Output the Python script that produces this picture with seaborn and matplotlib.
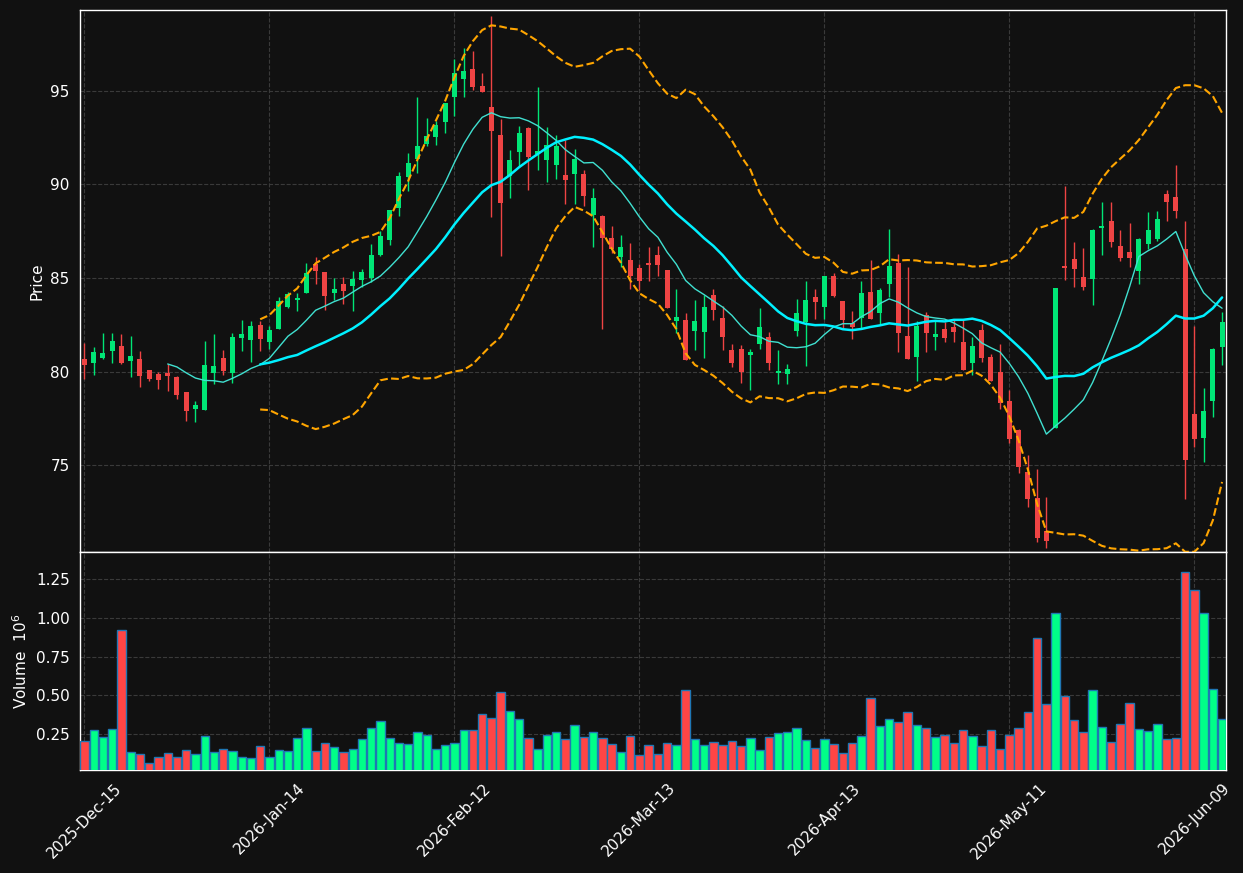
import numpy as np
import pandas as pd
import matplotlib
matplotlib.use("Agg")
import matplotlib.pyplot as plt
import seaborn as sns

# ---------------- data ----------------
holidays = ["2025-12-25", "2026-01-01", "2026-01-19", "2026-02-16", "2026-04-03", "2026-05-25"]
dates = pd.bdate_range("2025-12-15", "2026-06-12", freq="C", holidays=holidays)

opens = [80.68, 80.48, 80.75, 81.12, 81.37, 80.59, 80.68, 80.09, 79.88, 79.93,
         79.72, 78.92, 78.01, 77.97, 79.95, 80.73, 79.95, 81.82, 81.71, 82.49,
         81.60, 82.28, 83.45, 83.84, 84.20, 85.75, 85.32, 84.20, 84.68, 84.57,
         84.89, 85.00, 86.23, 87.03, 88.75, 90.41, 91.35, 92.17, 92.54, 93.32,
         94.68, 95.64, 96.15, 95.25, 94.12, 92.63, 90.46, 91.74, 93.00, 91.60,
         91.31, 91.05, 90.50, 90.57, 90.55, 88.34, 88.31, 87.13, 86.14, 85.96,
         85.53, 85.80, 86.23, 85.43, 82.71, 82.76, 82.17, 82.12, 84.09, 82.87,
         81.16, 81.21, 80.89, 81.48, 81.85, 79.93, 79.88, 82.17, 82.65, 83.99,
         83.45, 85.11, 83.77, 82.60, 82.87, 84.25, 83.13, 84.68, 85.80, 81.91,
         80.78, 83.03, 81.85, 82.28, 82.39, 81.58, 80.46, 82.23, 80.78, 79.98,
         78.44, 76.89, 74.65, 73.26, 71.48, 77.01, 85.64, 86.01, 85.05, 84.95,
         87.67, 88.04, 86.71, 86.39, 85.37, 86.81, 87.08, 89.48, 89.32, 86.55,
         77.74, 76.46, 78.44, 81.32]
highs = [81.51, 81.34, 82.05, 82.05, 81.99, 81.89, 81.09, 80.10, 80.00, 80.41,
         79.75, 78.92, 78.42, 81.64, 82.01, 81.16, 82.07, 82.76, 82.71, 82.71,
         82.44, 84.00, 84.24, 84.18, 85.78, 86.10, 85.32, 84.98, 85.04, 85.36,
         85.46, 86.80, 87.49, 88.65, 90.64, 91.65, 94.68, 93.56, 93.36, 94.35,
         96.67, 97.26, 97.10, 95.94, 98.98, 93.47, 91.81, 93.09, 93.05, 95.17,
         93.04, 92.61, 92.36, 91.87, 90.76, 89.78, 88.35, 87.76, 87.28, 86.85,
         85.75, 86.64, 86.71, 85.45, 84.40, 83.15, 83.83, 84.09, 84.41, 83.51,
         81.48, 81.42, 81.21, 83.40, 82.12, 81.16, 80.41, 83.90, 84.84, 84.41,
         85.11, 85.25, 83.77, 83.24, 84.82, 85.94, 84.47, 87.60, 86.28, 85.59,
         82.71, 83.19, 82.71, 82.65, 82.76, 82.81, 81.85, 82.55, 80.94, 81.48,
         79.02, 76.95, 75.54, 74.79, 73.30, 84.47, 89.91, 86.92, 86.60, 87.61,
         89.06, 89.06, 87.56, 87.93, 87.13, 88.52, 88.58, 89.70, 91.03, 88.04,
         82.44, 79.13, 81.26, 83.19]
lows = [79.59, 79.81, 80.66, 80.48, 80.41, 79.70, 79.17, 79.52, 79.06, 78.95,
        78.53, 77.39, 77.30, 77.97, 79.33, 79.84, 79.41, 81.12, 80.54, 81.12,
        81.23, 82.28, 83.40, 83.26, 84.20, 84.66, 83.31, 83.84, 83.63, 83.26,
        84.52, 84.79, 86.17, 86.74, 88.33, 89.66, 90.62, 92.06, 92.11, 92.72,
        93.64, 94.64, 95.05, 94.94, 88.24, 86.16, 89.25, 91.00, 89.68, 90.78,
        90.10, 90.26, 88.93, 88.93, 88.86, 86.64, 82.26, 86.35, 85.60, 84.40,
        84.36, 84.86, 85.12, 83.40, 82.05, 80.62, 81.16, 80.75, 82.76, 81.16,
        80.25, 79.40, 79.02, 81.21, 80.09, 79.34, 79.34, 81.91, 80.30, 82.81,
        82.81, 83.99, 82.35, 81.76, 82.33, 82.81, 82.55, 83.99, 81.07, 80.68,
        79.52, 81.07, 81.18, 81.58, 81.58, 80.09, 79.82, 80.52, 79.50, 78.01,
        76.20, 74.58, 72.80, 70.93, 70.57, 77.01, 84.89, 84.52, 84.36, 83.56,
        86.23, 86.65, 85.91, 85.59, 84.66, 86.55, 86.97, 88.04, 88.20, 73.22,
        75.98, 75.18, 77.58, 80.36]
closes = [80.36, 81.05, 81.00, 81.62, 80.48, 80.84, 79.79, 79.63, 79.57, 79.79,
          78.77, 77.92, 78.22, 80.36, 80.30, 80.06, 81.85, 82.03, 82.44, 81.76,
          82.23, 83.77, 84.13, 83.95, 85.27, 85.39, 84.06, 84.41, 84.31, 84.95,
          85.32, 86.21, 87.22, 88.61, 90.44, 91.12, 92.03, 92.56, 93.15, 94.32,
          95.94, 96.05, 95.21, 94.94, 92.86, 89.02, 91.30, 92.74, 91.47, 91.76,
          92.10, 92.04, 90.25, 91.35, 89.39, 89.25, 87.15, 86.57, 86.65, 85.12,
          84.86, 85.69, 85.69, 83.40, 82.92, 80.62, 82.71, 83.45, 83.29, 81.85,
          80.46, 79.98, 81.05, 82.39, 80.46, 80.04, 80.14, 83.13, 83.83, 83.72,
          85.11, 84.04, 82.76, 82.39, 84.20, 82.81, 84.36, 85.64, 82.07, 80.68,
          82.44, 82.07, 82.01, 81.80, 82.12, 80.09, 81.37, 80.73, 79.50, 78.33,
          76.41, 74.93, 73.22, 71.14, 70.98, 84.47, 85.53, 85.48, 84.52, 87.56,
          87.77, 86.92, 86.07, 86.07, 87.08, 87.56, 88.15, 89.06, 88.58, 75.29,
          76.41, 77.90, 81.21, 82.65]
volumes = [0.204, 0.276, 0.230, 0.282, 0.919, 0.133, 0.120, 0.061, 0.100, 0.126,
           0.105, 0.146, 0.120, 0.237, 0.133, 0.152, 0.139, 0.100, 0.094, 0.172,
           0.100, 0.146, 0.139, 0.224, 0.289, 0.139, 0.191, 0.165, 0.133, 0.152,
           0.217, 0.289, 0.334, 0.224, 0.191, 0.185, 0.263, 0.243, 0.152, 0.178,
           0.191, 0.276, 0.276, 0.380, 0.354, 0.523, 0.399, 0.347, 0.224, 0.152,
           0.243, 0.263, 0.217, 0.308, 0.230, 0.263, 0.224, 0.185, 0.133, 0.237,
           0.114, 0.178, 0.120, 0.191, 0.178, 0.535, 0.217, 0.178, 0.198, 0.178,
           0.204, 0.172, 0.224, 0.146, 0.230, 0.256, 0.263, 0.289, 0.211, 0.159,
           0.217, 0.185, 0.126, 0.191, 0.237, 0.484, 0.302, 0.347, 0.328, 0.393,
           0.308, 0.289, 0.230, 0.243, 0.191, 0.276, 0.237, 0.172, 0.276, 0.152,
           0.243, 0.289, 0.393, 0.873, 0.445, 1.029, 0.497, 0.341, 0.263, 0.535,
           0.295, 0.198, 0.315, 0.451, 0.282, 0.269, 0.315, 0.217, 0.224, 1.295,
           1.178, 1.029, 0.542, 0.347]

tick_positions = [0, 20, 40, 60, 80, 100, 120]

# ---------------- styling ----------------
BG = "#111111"
UP_C, DN_C = "#00e676", "#ef4444"
UP_V, DN_V = "#00ff88", "#ff4545"
GRID = "#3a3a3a"

sns.set_theme(style="dark")
plt.rcParams.update({
    "font.family": ["DejaVu Sans"],
    "font.size": 11,
    "figure.facecolor": BG,
    "axes.facecolor": BG,
    "axes.edgecolor": "white",
    "axes.labelcolor": "white",
    "xtick.color": "white",
    "ytick.color": "white",
    "text.color": "white",
})

df = pd.DataFrame({"date": dates, "open": opens, "high": highs, "low": lows,
                   "close": closes, "volume": volumes})
df["idx"] = np.arange(len(df))
df["ma10"] = df["close"].rolling(10).mean()
df["ma20"] = df["close"].rolling(20).mean()
sd = df["close"].rolling(20).std(ddof=0)
df["bb_up"] = df["ma20"] + 2 * sd
df["bb_lo"] = df["ma20"] - 2 * sd
up = df["close"] >= df["open"]

fig = plt.figure(figsize=(12.43, 8.73), dpi=100)
ax = fig.add_axes([0.0644, 0.3677, 0.9219, 0.6208])
axv = fig.add_axes([0.0644, 0.118, 0.9219, 0.2497], sharex=ax)

for a in (ax, axv):
    a.set_facecolor(BG)
    a.grid(True, color=GRID, linestyle="--", linewidth=0.8)
    a.set_axisbelow(True)
    for s in a.spines.values():
        s.set_color("white")
        s.set_linewidth(1.0)
    a.tick_params(colors="white", labelsize=11, length=4, width=1)

# candles
ccol = np.where(up, UP_C, DN_C)
ax.vlines(df["idx"], df["low"], df["high"], colors=ccol, linewidth=1.0, zorder=2)
body = (df["close"] - df["open"]).values
body = np.where(np.abs(body) < 0.04, np.sign(body + 1e-9) * 0.04, body)
ax.bar(df["idx"], body, bottom=df["open"], width=0.55, color=ccol, linewidth=0, zorder=3)

# moving averages & bands
sns.lineplot(data=df, x="idx", y="ma10", ax=ax, color="#40e0d0", linewidth=1.0, zorder=4)
sns.lineplot(data=df, x="idx", y="ma20", ax=ax, color="#00f0ff", linewidth=1.8, zorder=4)
sns.lineplot(data=df, x="idx", y="bb_up", ax=ax, color="#ffa500", linewidth=1.5,
             linestyle="--", zorder=4)
sns.lineplot(data=df, x="idx", y="bb_lo", ax=ax, color="#ffa500", linewidth=1.5,
             linestyle="--", zorder=4)

ax.set_ylim(70.38, 99.30)
ax.set_yticks([75, 80, 85, 90, 95])
ax.set_ylabel("Price", fontsize=11)
ax.set_xlabel("")
plt.setp(ax.get_xticklabels(), visible=False)
ax.tick_params(axis="x", length=0)

# volume
vcol = np.where(up, UP_V, DN_V)
axv.bar(df["idx"], df["volume"], width=0.9, color=vcol, edgecolor="#1f77b4",
        linewidth=1.0, zorder=3)
axv.set_ylim(0.018, 1.425)
axv.set_yticks([0.25, 0.50, 0.75, 1.00, 1.25])
axv.set_yticklabels(["0.25", "0.50", "0.75", "1.00", "1.25"])
axv.set_ylabel("Volume  $10^{6}$", fontsize=11)

axv.set_xlim(-0.476, 123.42)
axv.set_xticks(tick_positions)
axv.set_xticklabels([dates[i].strftime("%Y-%b-%d") for i in tick_positions],
                    rotation=45, ha="center")
axv.set_xlabel("")

fig.savefig("out.png", dpi=100, facecolor=BG)
